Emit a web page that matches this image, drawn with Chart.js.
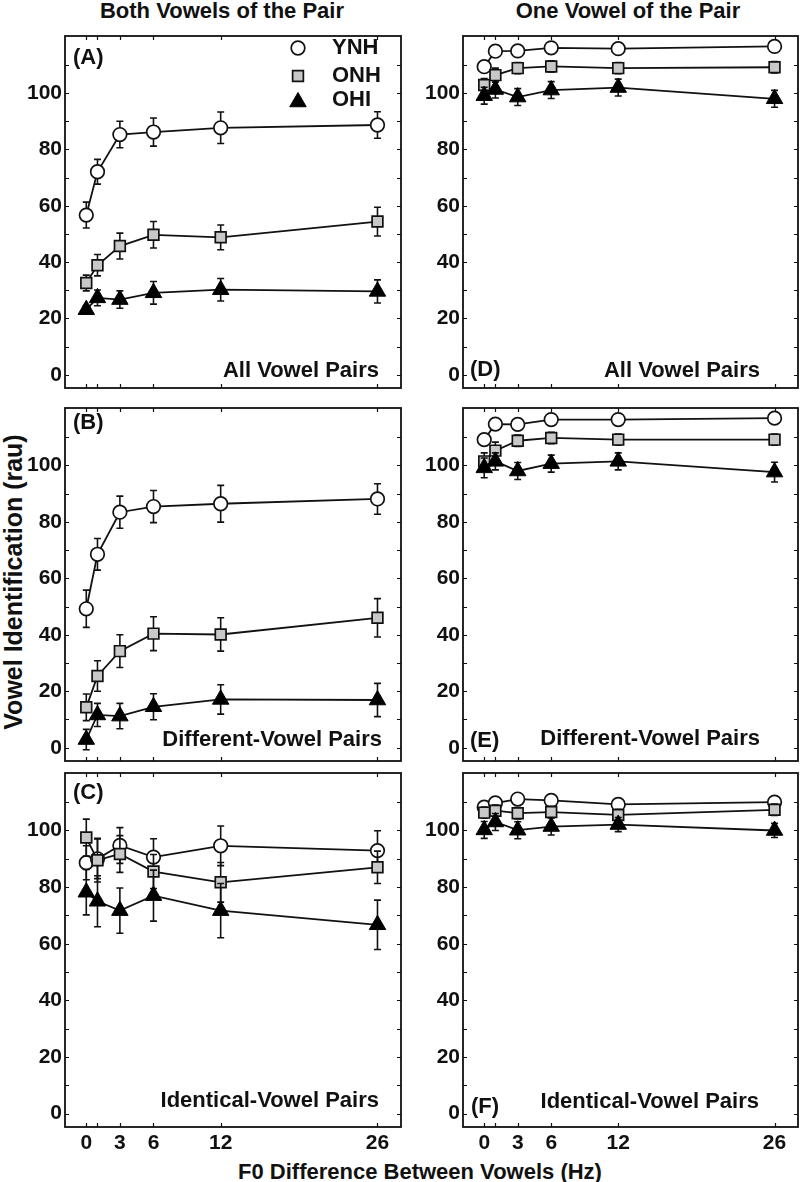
<!DOCTYPE html>
<html>
<head>
<meta charset="utf-8">
<script src="https://cdn.jsdelivr.net/npm/chart.js@4.4.0/dist/chart.umd.min.js"></script>
<style>
  body { margin: 0; background: #fff; }
  #wrap { position: relative; width: 800px; height: 1182px; overflow: hidden;
          font-family: "Liberation Sans", Arial, sans-serif; font-weight: bold; color: #111; }
  canvas { position: absolute; }
  .txt { position: absolute; white-space: nowrap; transform: translate(-50%, -50%); line-height: 1; }
</style>
</head>
<body>
<div id="wrap">
  <div class="txt" style="left:222px; top:11px; font-size:22px;">Both Vowels of the Pair</div>
  <div class="txt" style="left:628px; top:11px; font-size:22px;">One Vowel of the Pair</div>
  <div class="txt" style="left:13px; top:582px; font-size:25px; transform: translate(-50%, -50%) rotate(-90deg);">Vowel Identification (rau)</div>
  <div class="txt" style="left:420px; top:1172px; font-size:22px;">F0 Difference Between Vowels (Hz)</div>
  <canvas id="cA" width="405" height="372" style="left:0; top:26px;"></canvas>
  <canvas id="cB" width="405" height="373" style="left:0; top:398px;"></canvas>
  <canvas id="cC" width="405" height="394" style="left:0; top:763px;"></canvas>
  <canvas id="cD" width="400" height="372" style="left:400px; top:26px;"></canvas>
  <canvas id="cE" width="400" height="373" style="left:400px; top:398px;"></canvas>
  <canvas id="cF" width="400" height="394" style="left:400px; top:763px;"></canvas>
</div>
<script>
// F0 difference (Hz) and axis ticks
const xValues = [0, 1, 3, 6, 12, 26];
const xTickLabels = [0, 3, 6, 12, 26];
const yTickLabels = [0, 20, 40, 60, 80, 100];
const yMinorTicks = [10, 30, 50, 70, 90, 110];
const groups = ['YNH', 'ONH', 'OHI'];

// (A) both vowels, all vowel pairs
const aYNH = [56.7, 72.1, 85.3, 86.2, 87.7, 88.7];
const aYNHerr = [4.6, 4.4, 4.7, 5.0, 5.6, 4.7];
const aONH = [32.6, 38.9, 45.7, 49.7, 48.8, 54.4];
const aONHerr = [2.8, 3.8, 4.6, 4.7, 4.4, 5.1];
const aOHI = [23.1, 27.3, 26.7, 29.1, 30.2, 29.6];
const aOHIerr = [1.5, 2.8, 3.1, 4.0, 4.0, 4.1];

// (B) both vowels, different-vowel pairs
const bYNH = [49.2, 68.5, 83.4, 85.4, 86.4, 88.1];
const bYNHerr = [6.6, 5.6, 5.7, 5.7, 6.5, 5.4];
const bONH = [14.3, 25.4, 34.2, 40.4, 40.1, 46.0];
const bONHerr = [4.7, 5.4, 5.8, 6.0, 5.9, 6.8];
const bOHI = [2.9, 11.6, 11.2, 14.5, 17.1, 16.9];
const bOHIerr = [3.6, 4.1, 4.5, 4.6, 5.2, 5.9];

// (C) both vowels, identical-vowel pairs
const cYNH = [88.6, 90.0, 94.7, 90.6, 94.6, 92.9];
const cYNHerr = [6.0, 7.0, 6.3, 6.5, 7.0, 7.0];
const cONH = [97.5, 89.5, 91.7, 85.5, 81.7, 87.0];
const cONHerr = [6.5, 7.7, 6.5, 6.0, 7.0, 5.7];
const cOHI = [78.2, 75.0, 71.7, 77.0, 71.7, 66.7];
const cOHIerr = [8.0, 9.0, 8.0, 9.0, 9.6, 8.7];

// (D) one vowel, all vowel pairs
const dYNH = [109.4, 114.9, 115.0, 116.1, 115.8, 116.6];
const dYNHerr = [1.5, 1.5, 1.5, 1.5, 1.5, 1.5];
const dONH = [102.9, 106.4, 108.9, 109.5, 108.9, 109.2];
const dONHerr = [2.3, 2.5, 2.0, 2.0, 2.0, 2.0];
const dOHI = [99.1, 101.3, 98.6, 101.1, 102.0, 98.0];
const dOHIerr = [3.0, 3.0, 3.0, 3.0, 3.0, 3.0];

// (E) one vowel, different-vowel pairs
const eYNH = [109.1, 114.6, 114.5, 116.2, 116.2, 116.7];
const eYNHerr = [1.5, 1.5, 1.5, 1.5, 1.5, 1.5];
const eONH = [101.4, 105.2, 108.7, 109.7, 109.1, 109.1];
const eONHerr = [3.0, 3.0, 2.0, 2.0, 2.0, 2.0];
const eOHI = [99.1, 101.4, 98.0, 100.6, 101.4, 97.6];
const eOHIerr = [3.5, 3.0, 3.0, 3.0, 3.0, 3.5];

// (F) one vowel, identical-vowel pairs
const fYNH = [108.2, 109.7, 111.1, 110.6, 109.2, 110.0];
const fYNHerr = [1.5, 1.5, 1.5, 1.5, 1.5, 1.5];
const fONH = [106.3, 107.0, 106.1, 106.5, 105.5, 107.3];
const fONHerr = [2.0, 2.0, 2.0, 2.0, 2.0, 2.0];
const fOHI = [100.2, 103.0, 100.1, 101.4, 102.1, 100.0];
const fOHIerr = [3.0, 3.0, 3.0, 3.0, 2.5, 2.5];

const ink = '#111';
const fontFamily = '"Liberation Sans", Arial, sans-serif';
const tickFont = { family: fontFamily, size: 21, weight: 'bold' };

const markerStyles = [
    { pointStyle: 'circle', pointRadius: 6.8, pointBackgroundColor: '#fff', pointBorderColor: ink, pointBorderWidth: 1.7, order: 3 },
    { pointStyle: 'rect', pointRadius: 7.6, pointBackgroundColor: '#c8c8c8', pointBorderColor: ink, pointBorderWidth: 1.7, order: 2 },
    { pointStyle: 'triangle', pointRadius: 9.5, pointBackgroundColor: '#000', pointBorderColor: '#000', pointBorderWidth: 1, order: 1 },
];

function drawText(ctx, text, x, y, align) {
    ctx.save();
    ctx.font = 'bold 22px ' + fontFamily;
    ctx.fillStyle = ink;
    ctx.textAlign = align;
    ctx.textBaseline = 'middle';
    ctx.fillText(text, x, y);
    ctx.restore();
}

// frame, inward ticks, error bars, panel labels and legend
function panelPlugin(info) {
    return {
        id: 'panel',
        beforeDatasetDraw(chart, args) {
            const ds = chart.data.datasets[args.index];
            const xs = chart.scales.x, ys = chart.scales.y;
            const ctx = chart.ctx;
            ctx.save();
            ctx.strokeStyle = ink;
            ctx.lineWidth = 1.6;
            ds.data.forEach(function (p, i) {
                const e = ds.errors[i];
                const px = xs.getPixelForValue(p.x);
                const top = ys.getPixelForValue(p.y + e);
                const bot = ys.getPixelForValue(p.y - e);
                ctx.beginPath();
                ctx.moveTo(px, top); ctx.lineTo(px, bot);
                ctx.moveTo(px - 3.5, top); ctx.lineTo(px + 3.5, top);
                ctx.moveTo(px - 3.5, bot); ctx.lineTo(px + 3.5, bot);
                ctx.stroke();
            });
            ctx.restore();
        },
        afterDraw(chart) {
            const ctx = chart.ctx;
            const a = chart.chartArea;
            const xs = chart.scales.x, ys = chart.scales.y;
            ctx.save();
            ctx.strokeStyle = ink;
            ctx.lineWidth = 1.8;
            ctx.strokeRect(a.left, a.top, a.right - a.left, a.bottom - a.top);
            ctx.lineWidth = 1.2;
            ctx.beginPath();
            yTickLabels.concat(yMinorTicks).forEach(function (v) {
                const py = Math.round(ys.getPixelForValue(v)) + 0.5;
                ctx.moveTo(a.left, py); ctx.lineTo(a.left + 4, py);
                ctx.moveTo(a.right, py); ctx.lineTo(a.right - 4, py);
            });
            xValues.forEach(function (v) {
                const px = Math.round(xs.getPixelForValue(v)) + 0.5;
                ctx.moveTo(px, a.top); ctx.lineTo(px, a.top + 4);
                ctx.moveTo(px, a.bottom); ctx.lineTo(px, a.bottom - 4);
            });
            ctx.stroke();
            ctx.restore();

            drawText(ctx, info.label, a.left + info.labelDx, info.labelTop ? a.top + info.labelDy : a.bottom - info.labelDy, 'left');
            drawText(ctx, info.subtitle, a.right - info.subDx, a.bottom - info.subDy, 'right');

            if (info.legend) {
                const lx = a.left + 233;
                const rows = [12, 40, 64];
                groups.forEach(function (g, i) {
                    const m = markerStyles[i];
                    ctx.save();
                    ctx.fillStyle = m.pointBackgroundColor;
                    ctx.strokeStyle = m.pointBorderColor;
                    ctx.lineWidth = m.pointBorderWidth;
                    Chart.helpers.drawPoint(ctx, { pointStyle: m.pointStyle, radius: m.pointRadius, rotation: 0, borderWidth: m.pointBorderWidth }, lx, a.top + rows[i] + (i === 2 ? 2 : 0));
                    ctx.restore();
                    drawText(ctx, g, lx + 34, a.top + rows[i], 'left');
                });
            }
        }
    };
}

function makePanel(id, series, info) {
    const datasets = series.map(function (s, i) {
        return Object.assign({
            label: groups[i],
            data: xValues.map(function (x, j) { return { x: x, y: s[0][j] }; }),
            errors: s[1],
            borderColor: ink,
            borderWidth: 1.8,
            tension: 0,
            fill: false,
            clip: false,
        }, markerStyles[i]);
    });
    new Chart(document.getElementById(id), {
        type: 'line',
        data: { datasets: datasets },
        options: {
            responsive: false,
            animation: false,
            events: [],
            layout: { autoPadding: false, padding: { top: 10, bottom: info.showX ? 0 : 10, left: 0, right: info.padRight } },
            plugins: { legend: { display: false }, tooltip: { enabled: false } },
            scales: {
                x: {
                    type: 'linear', min: -1.9, max: 28.1, display: info.showX,
                    grid: { display: false, drawTicks: false }, border: { display: false },
                    afterBuildTicks: function (s) { s.ticks = xTickLabels.map(function (v) { return { value: v }; }); },
                    afterFit: function (s) {
                        s.height = info.showX ? 30 : 0;
                        s.paddingLeft = 0; s.paddingRight = 0;
                    },
                    ticks: { font: tickFont, color: ink, padding: 4, maxRotation: 0, autoSkip: false, callback: function (v) { return String(v); } },
                },
                y: {
                    min: -4.7, max: 120.3,
                    grid: { display: false, drawTicks: false }, border: { display: false },
                    afterBuildTicks: function (s) { s.ticks = yTickLabels.map(function (v) { return { value: v }; }); },
                    afterFit: function (s) {
                        s.width = info.yWidth;
                        s.paddingTop = 0; s.paddingBottom = 0;
                    },
                    ticks: { font: tickFont, color: ink, padding: 3, callback: function (v) { return String(v); } },
                },
            },
        },
        plugins: [panelPlugin(info)],
    });
}

makePanel('cA', [[aYNH, aYNHerr], [aONH, aONHerr], [aOHI, aOHIerr]],
    { label: '(A)', labelTop: true, labelDx: 8, labelDy: 22, subtitle: 'All Vowel Pairs', subDx: 22, subDy: 17, legend: true, showX: false, yWidth: 65, padRight: 4 });
makePanel('cB', [[bYNH, bYNHerr], [bONH, bONHerr], [bOHI, bOHIerr]],
    { label: '(B)', labelTop: true, labelDx: 8, labelDy: 15, subtitle: 'Different-Vowel Pairs', subDx: 19, subDy: 21, showX: false, yWidth: 65, padRight: 4 });
makePanel('cC', [[cYNH, cYNHerr], [cONH, cONHerr], [cOHI, cOHIerr]],
    { label: '(C)', labelTop: true, labelDx: 8, labelDy: 20, subtitle: 'Identical-Vowel Pairs', subDx: 22, subDy: 26, showX: true, yWidth: 65, padRight: 4 });
makePanel('cD', [[dYNH, dYNHerr], [dONH, dONHerr], [dOHI, dOHIerr]],
    { label: '(D)', labelTop: false, labelDx: 7, labelDy: 18, subtitle: 'All Vowel Pairs', subDx: 38, subDy: 17, showX: false, yWidth: 63, padRight: 2 });
makePanel('cE', [[eYNH, eYNHerr], [eONH, eONHerr], [eOHI, eOHIerr]],
    { label: '(E)', labelTop: false, labelDx: 7, labelDy: 20, subtitle: 'Different-Vowel Pairs', subDx: 38, subDy: 22, showX: false, yWidth: 63, padRight: 2 });
makePanel('cF', [[fYNH, fYNHerr], [fONH, fONHerr], [fOHI, fOHIerr]],
    { label: '(F)', labelTop: false, labelDx: 8, labelDy: 20, subtitle: 'Identical-Vowel Pairs', subDx: 39, subDy: 25, showX: true, yWidth: 63, padRight: 2 });
</script>
</body>
</html>
